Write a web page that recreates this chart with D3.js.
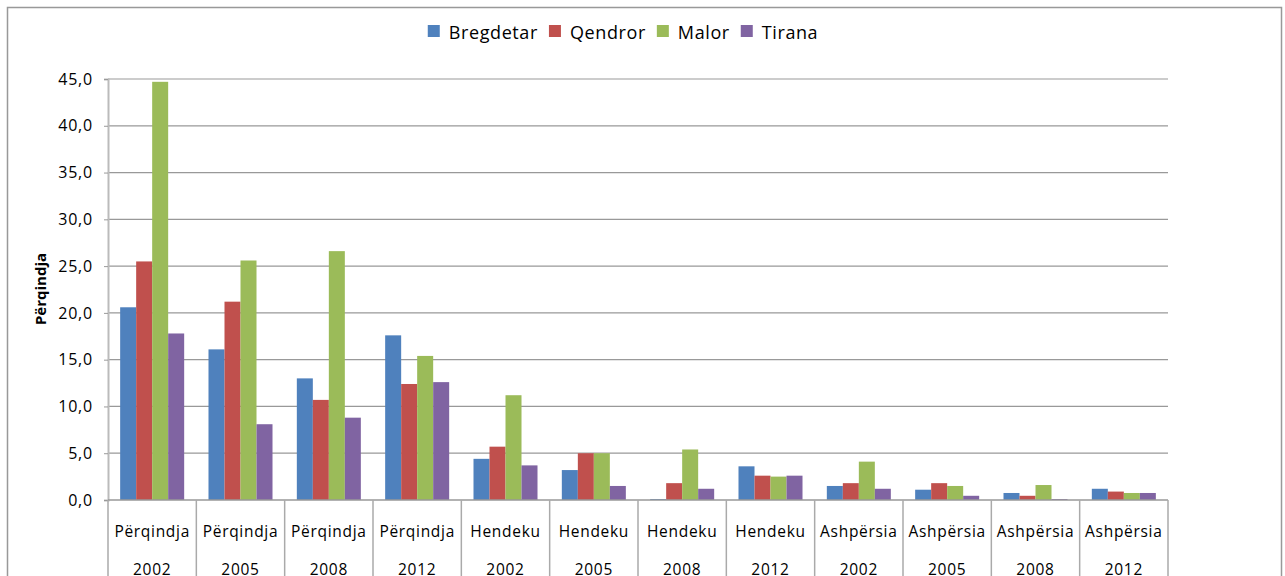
<!DOCTYPE html>
<html>
<head>
<meta charset="utf-8">
<script src="https://cdn.jsdelivr.net/npm/d3@7"></script>
<style>
  body { margin: 0; background: #fff; }
  text { font-family: "Open Sans", "Noto Sans", sans-serif; fill: #000; }
</style>
</head>
<body>
<script>
// Të dhënat
var kategorite = ["Përqindja", "Përqindja", "Përqindja", "Përqindja",
                  "Hendeku", "Hendeku", "Hendeku", "Hendeku",
                  "Ashpërsia", "Ashpërsia", "Ashpërsia", "Ashpërsia"];
var vitet = ["2002", "2005", "2008", "2012", "2002", "2005", "2008", "2012",
             "2002", "2005", "2008", "2012"];
var seritë = ["Bregdetar", "Qendror", "Malor", "Tirana"];
var bregdetar = [20.6, 16.1, 13.0, 17.6, 4.4, 3.2, 0.1, 3.6, 1.5, 1.1, 0.75, 1.2];
var qendror   = [25.5, 21.2, 10.7, 12.4, 5.7, 5.0, 1.8, 2.6, 1.8, 1.8, 0.45, 0.9];
var malor     = [44.7, 25.6, 26.6, 15.4, 11.2, 5.0, 5.4, 2.5, 4.1, 1.5, 1.6, 0.75];
var tirana    = [17.8, 8.1, 8.8, 12.6, 3.7, 1.5, 1.2, 2.6, 1.2, 0.45, 0.1, 0.75];
var yTicks = [0, 5, 10, 15, 20, 25, 30, 35, 40, 45];
var ngjyrat = ["#4F81BD", "#C0504D", "#9BBB59", "#8064A2"];

var vlerat = [bregdetar, qendror, malor, tirana];

var width = 1285, height = 576;
var svg = d3.select("body").append("svg")
    .attr("width", width)
    .attr("height", height);

// Korniza e jashtme
svg.append("rect")
    .attr("x", 7.5).attr("y", 7.5)
    .attr("width", 1274).attr("height", 600)
    .attr("fill", "none")
    .attr("stroke", "#999")
    .attr("stroke-width", 1.5);

var mLeft = 108, mRight = 1168, mTop = 79, mBottom = 500;

var x = d3.scaleBand()
    .domain(d3.range(kategorite.length))
    .range([mLeft, mRight])
    .paddingInner(0)
    .paddingOuter(0);

// 4 shtylla nga ~16px, me hapësirë ~12px anash
var xSub = d3.scaleBand()
    .domain(d3.range(seritë.length))
    .range([0, x.bandwidth()])
    .paddingOuter(0.76)
    .paddingInner(0);

var y = d3.scaleLinear().domain([0, 45]).range([mBottom, mTop]);

// Vijat e rrjetit
svg.append("g").selectAll("line")
    .data(yTicks.filter(function(d) { return d > 0; }))
    .enter().append("line")
    .attr("x1", mLeft).attr("x2", mRight)
    .attr("y1", function(d) { return y(d); })
    .attr("y2", function(d) { return y(d); })
    .attr("stroke", "#999")
    .attr("stroke-width", 1.2);

// Shtyllat
for (var s = 0; s < seritë.length; s++) {
    svg.append("g").selectAll("rect")
        .data(vlerat[s])
        .enter().append("rect")
        .attr("x", function(d, i) { return x(i) + xSub(s); })
        .attr("y", function(d) { return y(d); })
        .attr("width", xSub.bandwidth())
        .attr("height", function(d) { return mBottom - y(d); })
        .attr("fill", ngjyrat[s]);
}

// Boshti Y
var yAxis = d3.axisLeft(y)
    .tickValues(yTicks)
    .tickSize(4)
    .tickPadding(11)
    .tickFormat(function(d) { return d3.format(".1f")(d).replace(".", ","); });

var gy = svg.append("g")
    .attr("transform", "translate(" + mLeft + ",0)")
    .call(yAxis);
gy.select(".domain").attr("stroke", "#bbb").attr("stroke-width", 2);
gy.selectAll(".tick line").attr("stroke", "#999");
gy.selectAll(".tick text")
    .attr("font-size", "16px")
    .style("letter-spacing", "0.8px")
    .attr("font-family", "Open Sans");

// Boshti X
svg.append("line")
    .attr("x1", mLeft).attr("x2", mRight)
    .attr("y1", mBottom).attr("y2", mBottom)
    .attr("stroke", "#999").attr("stroke-width", 1.5);

svg.append("g").selectAll("line")
    .data(d3.range(kategorite.length + 1))
    .enter().append("line")
    .attr("x1", function(d) { return d < kategorite.length ? x(d) : mRight; })
    .attr("x2", function(d) { return d < kategorite.length ? x(d) : mRight; })
    .attr("y1", mBottom).attr("y2", height)
    .attr("stroke", "#aaa").attr("stroke-width", 1.5);

var gx = svg.append("g");
gx.selectAll("text.kat")
    .data(kategorite)
    .enter().append("text")
    .attr("class", "kat")
    .attr("x", function(d, i) { return x(i) + x.bandwidth() / 2; })
    .attr("y", 537)
    .attr("text-anchor", "middle")
    .attr("font-size", "15.5px")
    .style("letter-spacing", "0.7px")
    .text(function(d) { return d; });
gx.selectAll("text.vit")
    .data(vitet)
    .enter().append("text")
    .attr("class", "vit")
    .attr("x", function(d, i) { return x(i) + x.bandwidth() / 2; })
    .attr("y", 575)
    .attr("text-anchor", "middle")
    .attr("font-size", "15.5px")
    .style("letter-spacing", "0.7px")
    .text(function(d) { return d; });

// Titulli i boshtit Y
svg.append("text")
    .attr("transform", "translate(46,289) rotate(-90)")
    .attr("text-anchor", "middle")
    .attr("font-size", "15px")
    .attr("font-weight", "bold")
    .text("Përqindja");

// Legjenda
var leg = svg.append("g");
var lx = 0;
for (var k = 0; k < seritë.length; k++) {
    var g = leg.append("g").attr("transform", "translate(" + lx + ",0)");
    g.append("rect")
        .attr("x", 0).attr("y", 25)
        .attr("width", 12).attr("height", 12)
        .attr("fill", ngjyrat[k]);
    var t = g.append("text")
        .attr("x", 21).attr("y", 39)
        .attr("font-size", "18px")
        .style("letter-spacing", "0.6px")
        .text(seritë[k]);
    lx += 21 + t.node().getComputedTextLength() + 11;
}
var legW = lx - 11;
leg.attr("transform", "translate(" + (623 - legW / 2) + ",0)");
</script>
</body>
</html>
